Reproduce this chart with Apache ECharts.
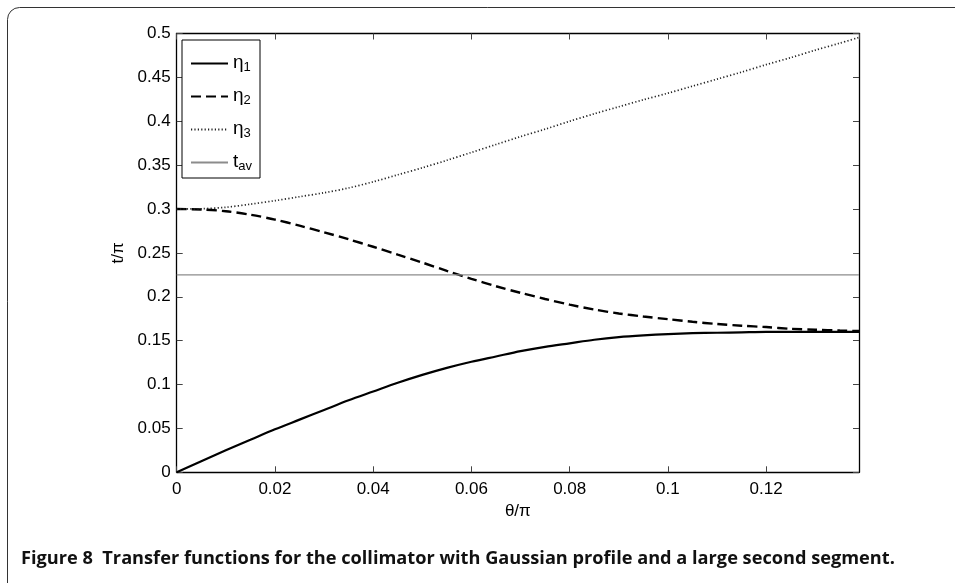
<!DOCTYPE html>
<html>
<head>
<meta charset="utf-8">
<script src="https://cdn.jsdelivr.net/npm/echarts@6/dist/echarts.min.js"></script>
<style>html,body{margin:0;padding:0;background:#fff;}#c{width:955px;height:583px;}</style>
</head>
<body>
<div id="c"></div>
<script>
// theta/pi sample positions
const theta = [0, 0.005, 0.01, 0.015, 0.02, 0.025, 0.03, 0.035, 0.04, 0.045, 0.05, 0.055, 0.06, 0.065, 0.07, 0.075, 0.08, 0.085, 0.09, 0.095, 0.1, 0.105, 0.11, 0.115, 0.12, 0.125, 0.13, 0.135, 0.1389];
const eta1 = [0, 0.0125, 0.025, 0.037, 0.049, 0.06, 0.071, 0.082, 0.092, 0.102, 0.111, 0.119, 0.126, 0.132, 0.138, 0.143, 0.147, 0.151, 0.154, 0.156, 0.1575, 0.1585, 0.159, 0.1595, 0.16, 0.16, 0.16, 0.16, 0.16];
const eta2 = [0.3, 0.2995, 0.2975, 0.2935, 0.288, 0.281, 0.2735, 0.2655, 0.257, 0.248, 0.239, 0.2295, 0.2205, 0.212, 0.2045, 0.1975, 0.191, 0.1855, 0.181, 0.1775, 0.1745, 0.1715, 0.169, 0.167, 0.1655, 0.1635, 0.1625, 0.1615, 0.161];
const eta3 = [0.3, 0.3003, 0.302, 0.3055, 0.3095, 0.314, 0.3185, 0.324, 0.331, 0.339, 0.347, 0.3555, 0.3645, 0.3735, 0.3825, 0.391, 0.4, 0.4085, 0.4165, 0.4245, 0.432, 0.44, 0.448, 0.456, 0.4645, 0.4725, 0.481, 0.489, 0.4955];
const tav = 0.225;
const seriesNames = ['η1', 'η2', 'η3', 'tav'];
const legendMain = ['η', 'η', 'η', 't'];
const legendSub = ['1', '2', '3', 'av'];
const xTicks = {min: 0, max: 0.1389, interval: 0.02};
const yTicks = {min: 0, max: 0.5, interval: 0.05};
const caption = 'Figure 8  Transfer functions for the collimator with Gaussian profile and a large second segment.';

const pairs = arr => theta.map((t, i) => [t, arr[i]]);

const chart = echarts.init(document.getElementById('c'), null, {renderer: 'canvas'});
const axisFont = {fontFamily: 'Liberation Sans', fontSize: 17, color: '#000'};
const tickStyle = {show: true, inside: false, length: -6, lineStyle: {color: '#444', width: 1}};
const lineStyleAxis = {show: true, onZero: false, lineStyle: {color: '#000', width: 1.3}};

chart.setOption({
  animation: false,
  backgroundColor: '#fff',
  grid: {left: 176.7, top: 33.5, right: 96, bottom: 110.7, containLabel: false},
  xAxis: [
    {type: 'value', position: 'bottom', min: xTicks.min, max: xTicks.max, interval: xTicks.interval,
     axisLine: lineStyleAxis, axisTick: tickStyle, splitLine: {show: false},
     axisLabel: Object.assign({margin: 9, showMaxLabel: false}, axisFont),
     name: 'θ/π', nameLocation: 'middle', nameGap: 29, nameTextStyle: axisFont},
    {type: 'value', position: 'top', min: xTicks.min, max: xTicks.max, interval: xTicks.interval,
     axisLine: lineStyleAxis, axisTick: tickStyle, splitLine: {show: false}, axisLabel: {show: false}}
  ],
  yAxis: [
    {type: 'value', position: 'left', min: yTicks.min, max: yTicks.max, interval: yTicks.interval,
     axisLine: lineStyleAxis, axisTick: tickStyle, splitLine: {show: false},
     axisLabel: Object.assign({margin: 6}, axisFont),
     name: 't/π', nameLocation: 'middle', nameGap: 50, nameRotate: 90, nameTextStyle: axisFont},
    {type: 'value', position: 'right', min: yTicks.min, max: yTicks.max, interval: yTicks.interval,
     axisLine: lineStyleAxis, axisTick: tickStyle, splitLine: {show: false}, axisLabel: {show: false}}
  ],
  legend: {
    orient: 'vertical', left: 182, top: 40, padding: [7, 8, 5, 8], itemGap: 6,
    itemWidth: 37, itemHeight: 14, backgroundColor: '#fff', borderColor: '#000', borderWidth: 1,
    itemStyle: {color: 'rgba(0,0,0,0)', borderWidth: 0, opacity: 0},
    data: seriesNames,
    formatter: name => {
      const i = seriesNames.indexOf(name);
      return '{m|' + legendMain[i] + '}{s|' + legendSub[i] + '}';
    },
    textStyle: {
      rich: {
        m: {fontFamily: 'Liberation Sans', fontSize: 19, lineHeight: 21, verticalAlign: 'top', color: '#000'},
        s: {fontFamily: 'Liberation Sans', fontSize: 13, lineHeight: 13, verticalAlign: 'bottom', padding: [14, 0, 0, 0], color: '#000'}
      }
    }
  },
  series: [
    {name: seriesNames[0], type: 'line', data: pairs(eta1), showSymbol: false, symbol: 'none', smooth: 0.3,
     lineStyle: {color: '#000', width: 2.2, type: 'solid'}, itemStyle: {color: '#000'}},
    {name: seriesNames[1], type: 'line', data: pairs(eta2), showSymbol: false, symbol: 'none', smooth: 0.3,
     lineStyle: {color: '#000', width: 2.4, type: [10, 5]}, itemStyle: {color: '#000'}},
    {name: seriesNames[2], type: 'line', data: pairs(eta3), showSymbol: false, symbol: 'none', smooth: 0.3,
     lineStyle: {color: '#222', width: 1.7, type: [1.2, 2.2]}, itemStyle: {color: '#222'}},
    {name: seriesNames[3], type: 'line', data: [[xTicks.min, tav], [xTicks.max, tav]], showSymbol: false, symbol: 'none',
     lineStyle: {color: '#8c8c8c', width: 1.2}, itemStyle: {color: '#8c8c8c'}}
  ],
  graphic: [
    {type: 'rect', silent: true, z: -1, shape: {x: 7.5, y: 7.5, width: 1000, height: 590, r: 12},
     style: {fill: 'none', stroke: '#333', lineWidth: 1}},
    {type: 'text', left: 21, top: 550, silent: true,
     style: {text: caption, fontFamily: 'Open Sans', fontWeight: 'bold', fontSize: 18.2, fill: '#111'}}
  ]
});
</script>
</body>
</html>
